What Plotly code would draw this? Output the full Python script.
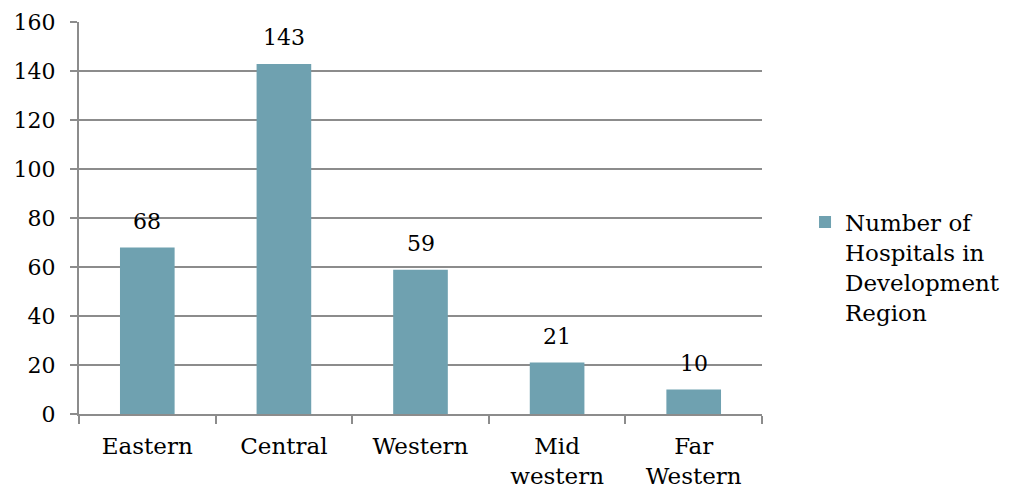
import plotly.graph_objects as go

categories = ["Eastern", "Central", "Western", "Mid<br>western", "Far<br>Western"]
values = [68, 143, 59, 21, 10]
series_name = "Number of<br>Hospitals in<br>Development<br>Region"
y_ticks = [0, 20, 40, 60, 80, 100, 120, 140, 160]

FONT = "DejaVu Serif"
BAR = "#6FA1B0"
GRID = "#8C8C8C"

fig = go.Figure(go.Bar(
    x=categories, y=values, name=series_name,
    marker=dict(color=BAR, line=dict(width=0)),
    cliponaxis=False,
))
for c, v in zip(categories, values):
    fig.add_annotation(x=c, y=v, text=str(v), showarrow=False,
                       yanchor="bottom", yshift=12,
                       font=dict(family=FONT, size=22, color="black"))
fig.update_layout(
    width=1010, height=496,
    margin=dict(l=71, r=256, t=14, b=90),
    paper_bgcolor="white", plot_bgcolor="white",
    bargap=0.6,
    showlegend=True,
    legend=dict(x=1.063, y=0.375, xanchor="left", yanchor="middle",
                valign="top", tracegroupgap=0,
                font=dict(family=FONT, size=23, color="black"),
                itemwidth=30),
    font=dict(family=FONT, size=22, color="black"),
    xaxis=dict(showline=True, linecolor=GRID, linewidth=2,
               ticks="outside", tickson="boundaries", ticklen=8,
               tickcolor=GRID, tickwidth=2, automargin=False,
               ticklabelstandoff=10,
               tickfont=dict(family=FONT, size=23)),
    yaxis=dict(range=[0, 160.2], tickvals=y_ticks, showgrid=True,
               gridcolor=GRID, gridwidth=2, showline=True,
               linecolor=GRID, linewidth=2, ticks="outside", ticklen=7,
               tickcolor=GRID, tickwidth=2, zeroline=False, automargin=False,
               ticklabelstandoff=10, ticklabeloverflow="allow",
               tickfont=dict(family=FONT, size=22)),
)
fig.write_html("out.html")
